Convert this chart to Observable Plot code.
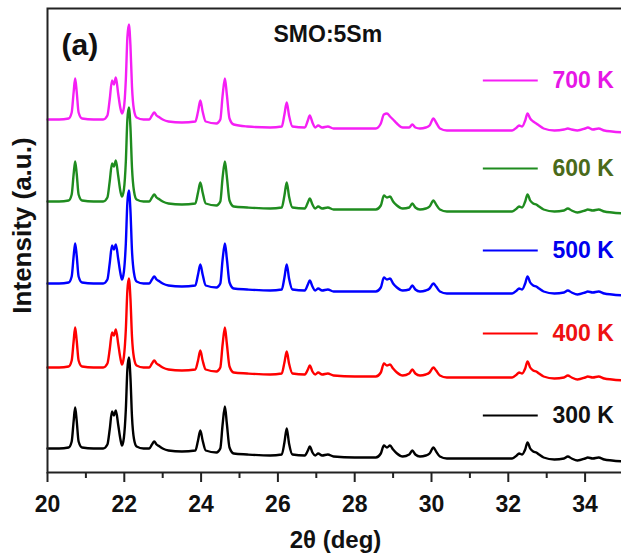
<!DOCTYPE html>
<html>
<head>
<meta charset="utf-8">
<script src="https://cdn.jsdelivr.net/npm/d3@7"></script>
<script src="https://cdn.jsdelivr.net/npm/@observablehq/plot@0.6"></script>
<style>
  html, body { margin: 0; padding: 0; background: #fff; }
  #chart svg { display: block; }
</style>
</head>
<body>
<div id="chart"></div>
<script>
// 2θ sample positions (deg)
const twoTheta = [
  20.00, 20.30, 20.55, 20.63, 20.68, 20.72, 20.76, 20.81, 20.90, 21.20,
  21.45, 21.56, 21.62, 21.68, 21.73, 21.78, 21.84, 21.90, 21.94, 21.99,
  22.04, 22.08, 22.12, 22.16, 22.20, 22.25, 22.32, 22.50, 22.65, 22.72,
  22.78, 22.84, 22.92, 23.00, 23.15, 23.50, 23.85, 23.92, 23.98, 24.04,
  24.12, 24.40, 24.50, 24.56, 24.62, 24.67, 24.74, 24.85, 25.20, 25.80,
  26.10, 26.17, 26.23, 26.29, 26.38, 26.70, 26.78, 26.83, 26.90, 26.97,
  27.05, 27.15, 27.30, 27.45, 28.00, 28.55, 28.68, 28.76, 28.84, 28.92,
  29.00, 29.10, 29.25, 29.42, 29.50, 29.58, 29.70, 29.85, 29.95, 30.05,
  30.12, 30.22, 30.40, 31.00, 31.60, 32.10, 32.22, 32.28, 32.36, 32.44,
  32.50, 32.57, 32.65, 32.73, 32.80, 32.92, 33.20, 33.45, 33.55, 33.65,
  33.80, 34.00, 34.07, 34.20, 34.35, 34.50, 34.70, 35.00
];

// Intensities (a.u.) per temperature
const i300 = [
  13, 13, 14, 20, 40, 54, 41, 20, 14, 13,
  13, 17, 32, 50, 46, 51, 37, 22, 16, 24,
  52, 92, 104, 84, 45, 23, 15, 13, 13, 17,
  20, 17, 15, 13, 11, 10, 11, 21, 31, 21,
  11, 9, 13, 37, 55, 38, 14, 8, 7, 6,
  7, 19, 33, 18, 7, 6, 11, 15, 9, 6,
  8, 6, 7, 5, 4, 4, 8, 16, 14, 16,
  12, 8, 5, 7, 11, 7, 5, 6, 8, 14,
  10, 5, 3, 3, 3, 3, 6, 8, 7, 12,
  19, 13, 10, 9, 7, 4, 2, 3, 5, 3,
  1, 3, 4, 3, 4, 2, 1, 0
];
const i400 = [
  13, 13, 14, 20, 39, 53, 40, 20, 14, 13,
  13, 17, 31, 48, 45, 51, 37, 22, 16, 24,
  51, 90, 102, 82, 44, 23, 15, 13, 13, 17,
  20, 17, 15, 13, 11, 10, 11, 20, 30, 20,
  11, 9, 13, 36, 53, 37, 14, 8, 7, 6,
  7, 18, 29, 17, 7, 6, 11, 15, 9, 6,
  8, 6, 7, 5, 4, 4, 8, 17, 15, 16,
  12, 8, 5, 7, 11, 7, 5, 6, 8, 13,
  10, 5, 3, 3, 3, 3, 6, 8, 7, 12,
  19, 13, 10, 9, 7, 4, 2, 3, 5, 3,
  1, 3, 4, 3, 4, 2, 1, 0
];
const i500 = [
  12, 12, 13, 19, 39, 52, 40, 19, 13, 12,
  12, 16, 32, 50, 46, 51, 37, 22, 16, 24,
  52, 93, 105, 85, 45, 23, 14, 12, 12, 16,
  19, 16, 14, 12, 10, 9, 10, 21, 31, 21,
  10, 8, 12, 36, 52, 37, 13, 7, 6, 5,
  6, 18, 31, 17, 6, 5, 11, 15, 9, 5,
  7, 5, 6, 4, 4, 4, 8, 18, 16, 17,
  12, 8, 5, 6, 10, 6, 4, 5, 7, 12,
  9, 4, 2, 2, 2, 2, 5, 7, 6, 12,
  19, 13, 10, 9, 7, 4, 2, 3, 5, 3,
  1, 3, 4, 3, 4, 2, 1, 0
];
const i600 = [
  12, 12, 13, 19, 39, 52, 40, 19, 13, 12,
  12, 16, 32, 50, 47, 53, 38, 22, 17, 24,
  52, 94, 106, 86, 46, 23, 14, 12, 12, 16,
  19, 16, 14, 12, 10, 9, 10, 21, 31, 21,
  10, 8, 12, 36, 52, 37, 13, 7, 6, 5,
  6, 18, 31, 17, 6, 5, 11, 15, 9, 5,
  7, 5, 6, 4, 4, 4, 8, 18, 16, 17,
  12, 8, 5, 6, 10, 6, 4, 5, 7, 13,
  9, 4, 2, 2, 2, 2, 5, 7, 6, 12,
  19, 13, 10, 9, 7, 4, 2, 3, 5, 3,
  1, 3, 4, 3, 4, 2, 1, 0
];
const i700 = [
  13, 13, 14, 20, 40, 54, 41, 20, 14, 13,
  13, 17, 33, 52, 48, 55, 39, 24, 19, 25,
  53, 95, 108, 87, 46, 23, 15, 13, 13, 17,
  20, 17, 15, 13, 11, 10, 11, 21, 32, 21,
  11, 9, 13, 37, 54, 38, 14, 8, 6, 5,
  6, 18, 30, 17, 6, 5, 12, 17, 10, 5,
  7, 5, 6, 4, 4, 4, 9, 18, 19, 16,
  13, 9, 5, 5, 8, 5, 4, 5, 7, 14,
  10, 4, 2, 2, 2, 2, 5, 7, 6, 12,
  19, 14, 11, 9, 7, 4, 2, 3, 4, 3,
  2, 4, 5, 3, 4, 2, 1, 0
];

const seriesNames = ["300 K", "400 K", "500 K", "600 K", "700 K"];
const seriesValues = [i300, i400, i500, i600, i700];
const offsets = [11, 92, 177, 259, 340];          // vertical stacking offsets (a.u.)
const lineColors = ["#000000", "#ff0000", "#0000ff", "#1f8c1f", "#f51ff5"];
const labelColors = ["#111111", "#ee1111", "#0000ee", "#4a6a1a", "#e616e6"];
const majorTicks = [20, 22, 24, 26, 28, 30, 32, 34];
const minorTicks = [21, 23, 25, 27, 29, 31, 33];

// layout (not data)
const legendLift = [46, 47, 45, 45, 52];
const legendLine = {x1: 31.35, x2: 32.78, textX: 33.15};

const rows = [];
seriesNames.forEach((name, s) => {
  twoTheta.forEach((t, i) => rows.push({t, y: seriesValues[s][i] + offsets[s], series: name}));
});
const legend = seriesNames.map((name, s) => ({name, y: offsets[s] + legendLift[s], color: lineColors[s], tcolor: labelColors[s]}));

const font = "'Liberation Sans', Arial, Helvetica, sans-serif";

const chart = Plot.plot({
  width: 621,
  height: 560,
  marginLeft: 47,
  marginRight: -2,
  marginTop: 8,
  marginBottom: 88,
  style: {fontFamily: font, background: "#fff", color: "#111"},
  x: {domain: [20, 35]},
  y: {domain: [0, 464], axis: null},
  color: {domain: seriesNames, range: lineColors},
  marks: [
    Plot.line(rows, {x: "t", y: "y", z: "series", stroke: "series", strokeWidth: 2.4, curve: "monotone-x"}),
    Plot.frame({stroke: "#222", strokeWidth: 2}),
    Plot.axisX(minorTicks, {tickSize: 6, strokeWidth: 2, stroke: "#222", text: null, label: null}),
    Plot.axisX(majorTicks, {tickSize: 10, tickPadding: 13, strokeWidth: 2, stroke: "#222", fontSize: 23, fontWeight: "bold", fill: "#111", label: null}),
    Plot.text(["2θ (deg)"], {frameAnchor: "bottom", textAnchor: "middle", lineAnchor: "middle", dy: 68, fontSize: 24, fontWeight: "bold", fill: "#111"}),
    Plot.text(["Intensity (a.u.)"], {frameAnchor: "left", textAnchor: "middle", lineAnchor: "middle", rotate: -90, dx: -25, dy: -15, fontSize: 26, fontWeight: "bold", fill: "#111"}),
    Plot.text(["(a)"], {frameAnchor: "top-left", textAnchor: "start", lineAnchor: "middle", dx: 14, dy: 37, fontSize: 30, fontWeight: "bold", fill: "#111"}),
    Plot.text(["SMO:5Sm"], {frameAnchor: "top-left", textAnchor: "start", lineAnchor: "middle", dx: 226, dy: 26, fontSize: 23, fontWeight: "bold", fill: "#111"}),
    Plot.ruleY(legend, {y: "y", x1: legendLine.x1, x2: legendLine.x2, stroke: "color", strokeWidth: 2}),
    Plot.text(legend, {y: "y", x: legendLine.textX, text: "name", fill: "tcolor", textAnchor: "start", fontSize: 23, fontWeight: "bold"})
  ]
});
document.getElementById("chart").appendChild(chart);
</script>
</body>
</html>
